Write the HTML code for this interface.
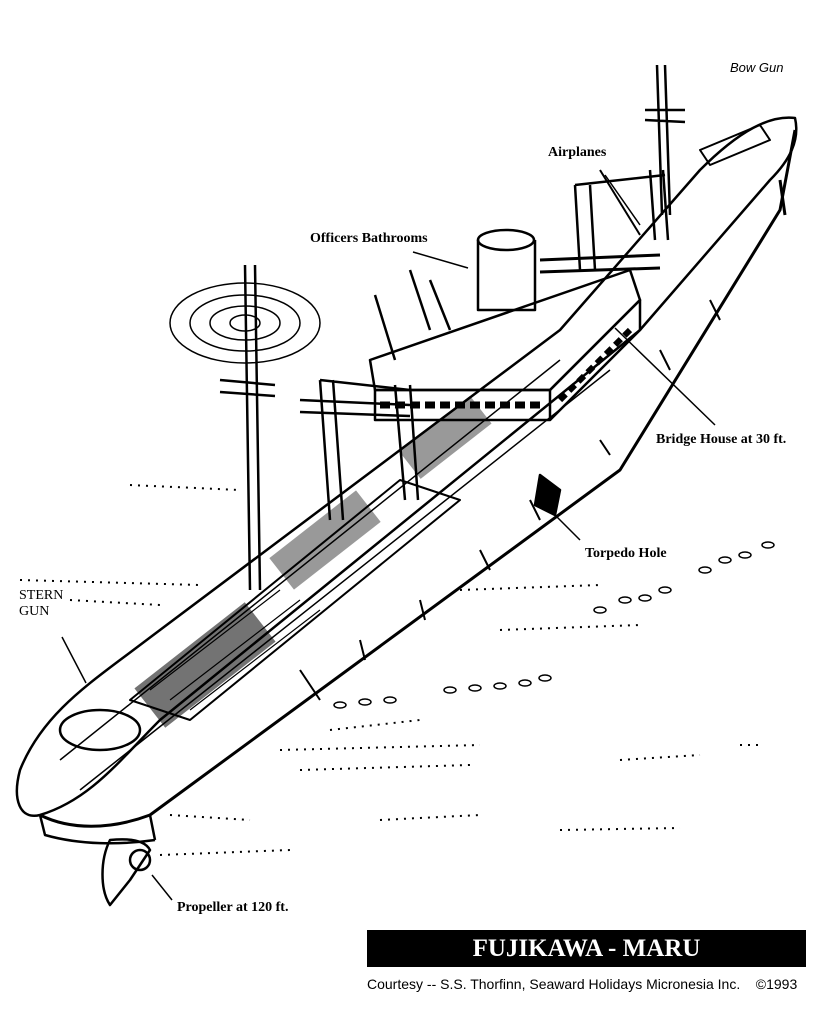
<!DOCTYPE html>
<html><head><meta charset="utf-8"><style>
body{margin:0;background:#fff;width:839px;height:1024px;overflow:hidden;position:relative;font-family:"Liberation Serif",serif}
.l{position:absolute;font-weight:bold;font-size:14px;color:#000}
</style></head><body>
<svg width="839" height="1024" style="position:absolute;left:0;top:0" fill="none" stroke="#000" stroke-width="2.5" stroke-linejoin="round">
<!-- hull deck outline -->
<path d="M20,770 C40,720 80,690 120,660 L560,330 L700,170 C740,130 770,115 795,118 C800,140 790,160 770,180 L640,330 L160,720 C120,760 90,800 40,815 C20,820 12,800 20,770Z"/>
<!-- hull side -->
<path d="M40,815 C70,830 110,830 150,815 L620,470 L780,210 L795,130" stroke-width="3"/>
<path d="M150,815 L155,840 M40,815 L45,835 C80,845 120,845 155,840"/>
<!-- propeller/rudder -->
<path d="M110,840 C100,860 100,890 110,905 L130,880 L150,850 C145,840 130,838 110,840Z"/>
<circle cx="140" cy="860" r="10"/>
<!-- inner deck lines -->
<path d="M60,760 L560,360 M80,790 L610,370" stroke-width="1.5"/>
<path d="M130,700 L400,480 L460,500 L190,720Z" stroke-width="2"/>
<path d="M150,690 L280,590 M170,700 L300,600 M190,710 L320,610" stroke-width="1.2"/>
<rect x="135" y="640" width="140" height="50" fill="#000" transform="rotate(-38 205 665)" opacity="0.55" stroke="none"/>
<rect x="270" y="520" width="110" height="40" fill="#000" transform="rotate(-38 325 540)" opacity="0.4" stroke="none"/>
<rect x="400" y="420" width="90" height="35" fill="#000" transform="rotate(-38 445 437)" opacity="0.4" stroke="none"/>
<!-- stern circle -->
<ellipse cx="100" cy="730" rx="40" ry="20"/>
<!-- main mast -->
<path d="M245,265 L250,590 M255,265 L260,590"/>
<path d="M220,380 L275,385 M220,392 L275,396"/>
<ellipse cx="245" cy="323" rx="75" ry="40" stroke-width="1.5"/>
<ellipse cx="245" cy="323" rx="55" ry="28" stroke-width="1.5"/>
<ellipse cx="245" cy="323" rx="35" ry="17" stroke-width="1.5"/>
<ellipse cx="245" cy="323" rx="15" ry="8" stroke-width="1.5"/>
<!-- king posts aft -->
<path d="M320,380 L330,520 M333,380 L343,520 M320,380 L410,390 M395,385 L405,500 M410,385 L418,500"/>
<path d="M300,400 L410,405 M300,412 L410,416"/>
<!-- bridge superstructure -->
<path d="M370,360 L630,270 L640,300 L550,390 L375,390Z"/>
<path d="M375,390 L550,390 L550,420 L375,420Z"/>
<path d="M380,405 L545,405" stroke-width="7" stroke-dasharray="10,5"/>
<path d="M550,390 L640,300 L640,330 L550,420"/>
<path d="M560,400 L630,330" stroke-width="6" stroke-dasharray="8,5"/>
<!-- funnel -->
<path d="M478,240 L478,310 L535,310 L535,240"/>
<ellipse cx="506" cy="240" rx="28" ry="10"/>
<!-- cranes -->
<path d="M375,295 L395,360 M410,270 L430,330 M430,280 L450,330"/>
<!-- forward kingposts -->
<path d="M575,185 L580,270 M590,185 L595,270 M575,185 L665,175 M650,170 L655,240 M663,170 L668,240"/>
<path d="M540,260 L660,255 M540,272 L660,268" stroke-width="3"/>
<!-- fore mast -->
<path d="M657,65 L662,215 M665,65 L670,215 M645,110 L685,110 M645,120 L685,122"/>
<path d="M600,170 L640,235" stroke-width="2"/>
<!-- bow details -->
<path d="M700,150 L760,125 L770,140 L710,165Z" stroke-width="2"/>
<path d="M780,180 L785,215" stroke-width="3"/>
<!-- leader lines -->
<path d="M62,637 L86,683" stroke-width="1.5"/>
<path d="M152,875 L172,900" stroke-width="1.5"/>
<path d="M413,252 L468,268" stroke-width="1.5"/>
<path d="M605,175 L640,225" stroke-width="1.5"/>
<path d="M615,328 L715,425" stroke-width="1.5"/>
<path d="M555,515 L580,540" stroke-width="1.5"/>
<!-- torpedo hole -->
<path d="M540,475 L560,490 L555,515 L535,505Z" fill="#000"/>
<!-- hull side texture -->
<path d="M300,670 L320,700 M360,640 L365,660 M420,600 L425,620 M480,550 L490,570 M530,500 L540,520 M600,440 L610,455 M660,350 L670,370 M710,300 L720,320" stroke-width="2"/>
<!-- bubbles -->
<g stroke-width="1.5">
<ellipse cx="705" cy="570" rx="6" ry="3"/><ellipse cx="725" cy="560" rx="6" ry="3"/><ellipse cx="745" cy="555" rx="6" ry="3"/><ellipse cx="768" cy="545" rx="6" ry="3"/>
<ellipse cx="600" cy="610" rx="6" ry="3"/><ellipse cx="625" cy="600" rx="6" ry="3"/><ellipse cx="645" cy="598" rx="6" ry="3"/><ellipse cx="665" cy="590" rx="6" ry="3"/>
<ellipse cx="450" cy="690" rx="6" ry="3"/><ellipse cx="475" cy="688" rx="6" ry="3"/><ellipse cx="500" cy="686" rx="6" ry="3"/><ellipse cx="525" cy="683" rx="6" ry="3"/><ellipse cx="545" cy="678" rx="6" ry="3"/>
<ellipse cx="340" cy="705" rx="6" ry="3"/><ellipse cx="365" cy="702" rx="6" ry="3"/><ellipse cx="390" cy="700" rx="6" ry="3"/>
</g>
<!-- dotted water -->
<g stroke-width="2" stroke-dasharray="2,6">
<path d="M130,485 L240,490 M20,580 L200,585 M70,600 L160,605 M280,750 L480,745 M300,770 L470,765 M380,820 L480,815 M160,855 L290,850 M460,590 L600,585 M500,630 L640,625 M620,760 L700,755 M560,830 L680,828 M740,745 L760,745 M330,730 L420,720 M170,815 L250,820"/>
</g>
</svg>
<div class="l" style="left:19px;top:588px;font-weight:normal;line-height:16px">STERN<br>GUN</div>
<div class="l" style="left:177px;top:900px">Propeller at 120 ft.</div>
<div class="l" style="left:310px;top:231px">Officers Bathrooms</div>
<div class="l" style="left:548px;top:145px">Airplanes</div>
<div class="l" style="left:656px;top:432px">Bridge House at 30 ft.</div>
<div class="l" style="left:585px;top:546px">Torpedo Hole</div>
<div style="position:absolute;left:730px;top:60px;font-family:'Liberation Sans',sans-serif;font-size:13px;font-style:italic">Bow Gun</div>
<div style="position:absolute;left:367px;top:930px;width:439px;height:37px;background:#000;color:#fff;font-weight:bold;font-size:25px;text-align:center;line-height:37px">FUJIKAWA - MARU</div>
<div style="position:absolute;left:367px;top:976px;font-family:'Liberation Sans',sans-serif;font-size:14px;white-space:nowrap">Courtesy -- S.S. Thorfinn, Seaward Holidays Micronesia Inc.&nbsp;&nbsp;&nbsp;&nbsp;©1993</div>
</body></html>
